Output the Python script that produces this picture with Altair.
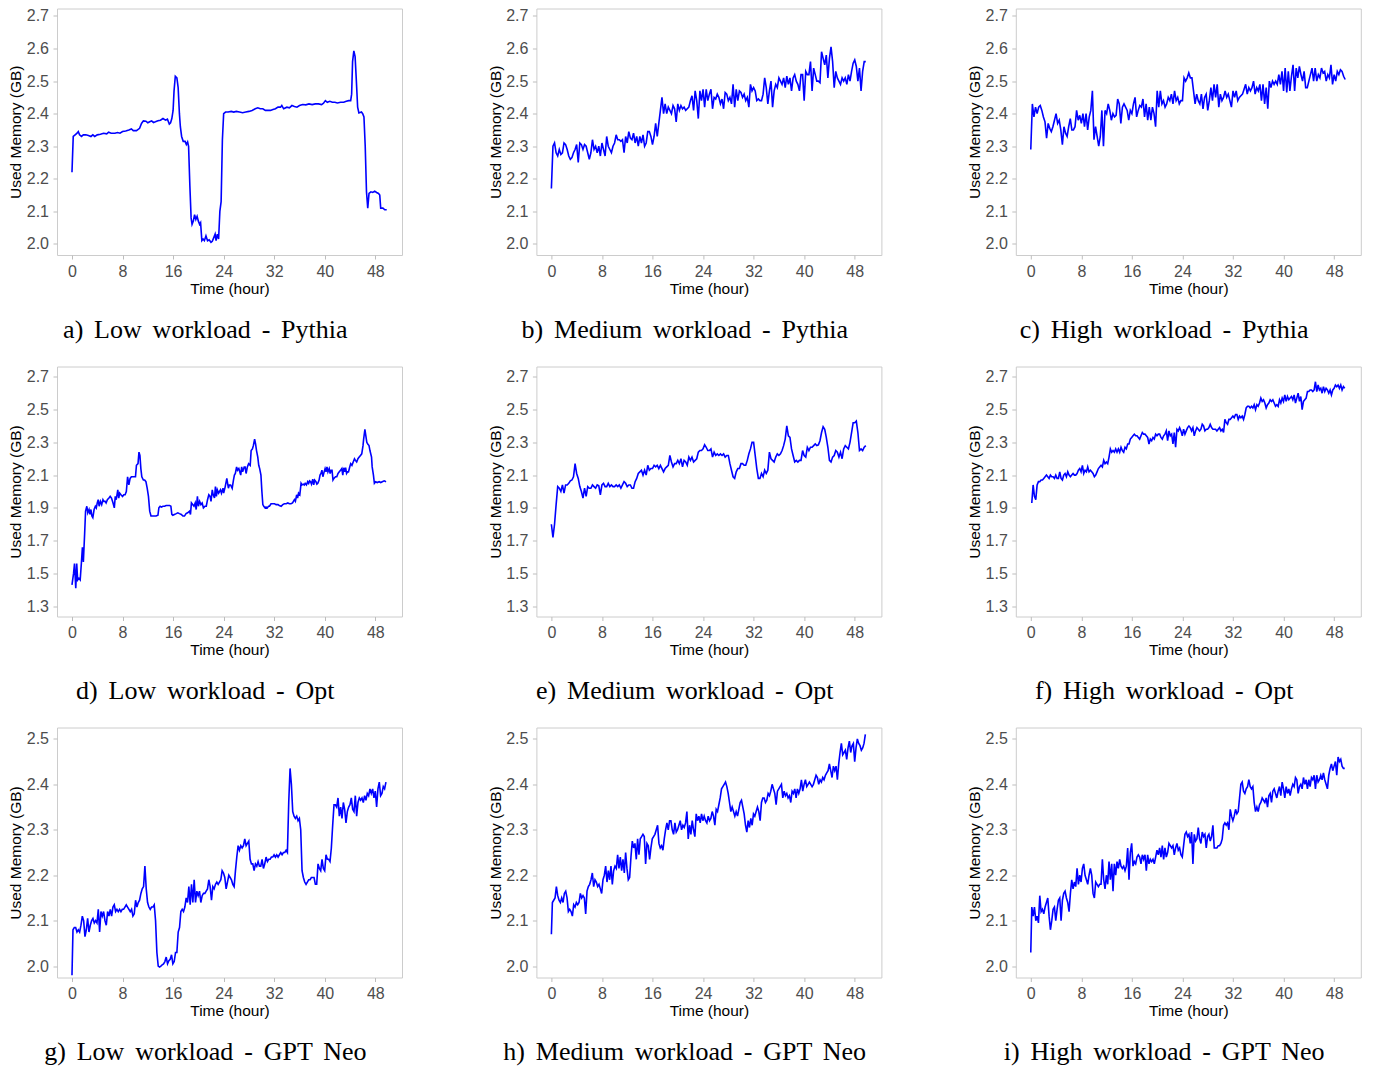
import altair as alt
import pandas as pd

# ---------------- data (hours, used memory GB) ----------------
a_hours = [0, 0.2, 0.5, 0.8, 1.0, 1.2, 1.5, 1.8, 2.2, 2.6, 3.0, 3.3, 3.6, 4.0, 4.5, 5.0, 5.5, 5.8, 6.2, 6.8,
           7.2, 7.6, 8.0, 8.5, 9.0, 9.4, 9.7, 10.2, 10.7, 11.0, 11.3, 11.7, 12.0, 12.3, 12.6, 12.9, 13.2, 13.6,
           14.0, 14.4, 14.8, 15.1, 15.4, 15.6, 15.8, 16.0, 16.15, 16.35, 16.6, 16.8, 17.0, 17.15, 17.35, 17.6,
           17.9, 18.1, 18.3, 18.45, 18.65, 18.85, 19.0, 19.2, 19.4, 19.6, 19.8, 20.0, 20.2, 20.35, 20.55, 20.75,
           20.95, 21.2, 21.45, 21.7, 22.0, 22.2, 22.45, 22.65, 22.8, 23.0, 23.2, 23.4, 23.6, 23.8, 24.0, 24.3,
           24.7, 25.2, 25.6, 26.0, 26.5, 27.0, 27.5, 28.0, 28.5, 29.0, 29.4, 29.8, 30.2, 30.6, 31.0, 31.4, 31.8,
           32.2, 32.6, 33.0, 33.2, 33.5, 34.0, 34.4, 34.8, 35.2, 35.6, 36.0, 36.5, 37.0, 37.5, 38.0, 38.5, 39.0,
           39.5, 39.8, 40.1, 40.4, 40.8, 41.2, 41.6, 42.0, 42.5, 43.0, 43.4, 43.8, 44.1, 44.25, 44.4, 44.6, 44.8,
           45.0, 45.2, 45.4, 45.8, 46.0, 46.2, 46.4, 46.6, 46.8, 47.0, 47.3, 47.6, 47.9, 48.2, 48.5, 48.7, 48.85,
           49.2, 49.5, 49.8]
a_mem = [2.22, 2.33, 2.335, 2.34, 2.345, 2.335, 2.33, 2.335, 2.335, 2.333, 2.33, 2.335, 2.33, 2.335, 2.337,
         2.34, 2.338, 2.343, 2.34, 2.34, 2.342, 2.34, 2.345, 2.347, 2.35, 2.353, 2.348, 2.348, 2.355, 2.37,
         2.378, 2.377, 2.372, 2.375, 2.378, 2.373, 2.375, 2.378, 2.38, 2.385, 2.38, 2.383, 2.368, 2.372, 2.385,
         2.41, 2.47, 2.515, 2.51, 2.48, 2.40, 2.36, 2.33, 2.315, 2.315, 2.305, 2.313, 2.30, 2.18, 2.08, 2.06,
         2.07, 2.09, 2.075, 2.085, 2.07, 2.06, 2.065, 2.01, 2.015, 2.01, 2.025, 2.01, 2.013, 2.005, 2.008, 2.02,
         2.03, 2.01, 2.03, 2.015, 2.10, 2.13, 2.32, 2.40, 2.405, 2.405, 2.407, 2.405, 2.407, 2.405, 2.403,
         2.405, 2.407, 2.41, 2.415, 2.418, 2.415, 2.415, 2.41, 2.41, 2.41, 2.413, 2.415, 2.42, 2.42, 2.425,
         2.415, 2.42, 2.418, 2.425, 2.422, 2.42, 2.425, 2.428, 2.427, 2.43, 2.428, 2.43, 2.43, 2.428, 2.432,
         2.44, 2.435, 2.438, 2.435, 2.435, 2.433, 2.435, 2.435, 2.438, 2.44, 2.44, 2.46, 2.56, 2.593, 2.575,
         2.50, 2.42, 2.402, 2.405, 2.40, 2.39, 2.30, 2.16, 2.11, 2.155, 2.16, 2.158, 2.162, 2.158, 2.155, 2.15,
         2.11, 2.11, 2.105, 2.105]

# quarter-hour samples
b_mem = [2.17, 2.30, 2.31, 2.28, 2.27, 2.29, 2.275, 2.28, 2.31, 2.305, 2.29, 2.27, 2.26, 2.265, 2.28, 2.29,
         2.305, 2.25, 2.31, 2.305, 2.29, 2.305, 2.30, 2.28, 2.26, 2.28, 2.32, 2.29, 2.30, 2.28, 2.30, 2.27,
         2.31, 2.29, 2.27, 2.33, 2.30, 2.29, 2.28, 2.30, 2.31, 2.335, 2.32, 2.32, 2.315, 2.32, 2.28, 2.33,
         2.31, 2.345, 2.325, 2.32, 2.34, 2.31, 2.33, 2.30, 2.33, 2.31, 2.335, 2.30, 2.31, 2.345, 2.345, 2.33,
         2.305, 2.33, 2.37, 2.33, 2.37, 2.41, 2.45, 2.40, 2.43, 2.40, 2.42, 2.41, 2.40, 2.425, 2.415, 2.375,
         2.43, 2.41, 2.425, 2.415, 2.42, 2.41, 2.415, 2.42, 2.44, 2.455, 2.41, 2.47, 2.44, 2.385, 2.47, 2.44,
         2.475, 2.42, 2.475, 2.44, 2.46, 2.475, 2.415, 2.45, 2.445, 2.46, 2.45, 2.43, 2.445, 2.415, 2.465, 2.46,
         2.44, 2.45, 2.43, 2.49, 2.42, 2.475, 2.44, 2.47, 2.465, 2.45, 2.46, 2.44, 2.45, 2.42, 2.49, 2.47,
         2.48, 2.47, 2.44, 2.445, 2.44, 2.44, 2.46, 2.51, 2.48, 2.43, 2.47, 2.50, 2.42, 2.47, 2.49, 2.48,
         2.51, 2.50, 2.49, 2.51, 2.48, 2.515, 2.49, 2.51, 2.47, 2.51, 2.52, 2.50, 2.49, 2.47, 2.52, 2.52,
         2.44, 2.53, 2.52, 2.52, 2.56, 2.47, 2.54, 2.52, 2.50, 2.50, 2.495, 2.59, 2.57, 2.55, 2.58, 2.51,
         2.57, 2.605, 2.56, 2.48, 2.53, 2.51, 2.50, 2.49, 2.51, 2.50, 2.51, 2.49, 2.52, 2.50, 2.53, 2.555,
         2.565, 2.545, 2.50, 2.54, 2.47, 2.53, 2.56, 2.56]
b_hours = [i * 0.25 for i in range(len(b_mem))]

c_mem = [2.29, 2.43, 2.39, 2.42, 2.40, 2.42, 2.425, 2.41, 2.39, 2.375, 2.325, 2.37, 2.355, 2.345, 2.36, 2.38,
         2.40, 2.37, 2.38, 2.35, 2.305, 2.36, 2.34, 2.33, 2.36, 2.385, 2.35, 2.35, 2.36, 2.41, 2.38, 2.395,
         2.37, 2.40, 2.36, 2.40, 2.35, 2.39, 2.41, 2.47, 2.32, 2.36, 2.33, 2.30, 2.33, 2.41, 2.30, 2.41,
         2.40, 2.43, 2.41, 2.38, 2.40, 2.39, 2.395, 2.445, 2.43, 2.37, 2.42, 2.43, 2.42, 2.41, 2.38, 2.41,
         2.40, 2.43, 2.45, 2.39, 2.41, 2.425, 2.42, 2.445, 2.39, 2.43, 2.38, 2.42, 2.38, 2.42, 2.40, 2.36,
         2.47, 2.42, 2.47, 2.43, 2.44, 2.42, 2.43, 2.45, 2.44, 2.46, 2.43, 2.47, 2.44, 2.45, 2.43, 2.44,
         2.44, 2.51, 2.50, 2.51, 2.525, 2.51, 2.51, 2.47, 2.43, 2.46, 2.44, 2.43, 2.46, 2.415, 2.45, 2.46,
         2.41, 2.44, 2.48, 2.44, 2.49, 2.45, 2.49, 2.42, 2.46, 2.44, 2.45, 2.47, 2.45, 2.46, 2.44, 2.42,
         2.47, 2.45, 2.47, 2.44, 2.45, 2.455, 2.46, 2.475, 2.49, 2.46, 2.48, 2.47, 2.48, 2.50, 2.46, 2.48,
         2.47, 2.49, 2.44, 2.49, 2.43, 2.48, 2.415, 2.50, 2.48, 2.50, 2.49, 2.50, 2.49, 2.52, 2.49, 2.53,
         2.47, 2.54, 2.465, 2.53, 2.47, 2.515, 2.55, 2.47, 2.54, 2.51, 2.545, 2.52, 2.50, 2.53, 2.48, 2.48,
         2.50, 2.52, 2.54, 2.50, 2.54, 2.50, 2.52, 2.51, 2.54, 2.525, 2.53, 2.50, 2.52, 2.51, 2.55, 2.49,
         2.52, 2.50, 2.53, 2.52, 2.535, 2.53, 2.515, 2.505]
c_hours = [i * 0.25 for i in range(len(c_mem))]

d_hours = [0, 0.25, 0.4, 0.6, 0.75, 0.9, 1.1, 1.3, 1.5, 1.65, 1.8, 2.0, 2.15, 2.35, 2.5, 2.7, 2.85, 3.0, 3.15,
           3.3, 3.5, 3.7, 3.85, 4.0, 4.15, 4.3, 4.5, 4.7, 4.9, 5.05, 5.25, 5.4, 5.6, 5.85, 6.05, 6.25, 6.5, 6.7,
           6.85, 7.0, 7.25, 7.4, 7.55, 7.75, 8.0, 8.2, 8.4, 8.6, 8.8, 9.0, 9.2, 9.4, 9.65, 9.85, 10.05, 10.2,
           10.45, 10.6, 10.75, 10.9, 11.05, 11.3, 11.5, 11.7, 11.9, 12.1, 12.3, 12.5, 12.8, 13.05, 13.3, 13.6,
           13.75, 13.95, 14.15, 14.4, 14.65, 14.9, 15.2, 15.45, 15.65, 15.8, 15.95, 16.2, 16.5, 16.75, 17.0,
           17.3, 17.55, 17.8, 18.05, 18.3, 18.6, 18.75, 18.9, 19.1, 19.3, 19.5, 19.65, 19.85, 20.0, 20.2, 20.4,
           20.6, 20.8, 21.05, 21.25, 21.45, 21.65, 21.85, 22.0, 22.2, 22.35, 22.55, 22.7, 22.85, 23.0, 23.2,
           23.35, 23.5, 23.65, 23.9, 24.0, 24.25, 24.5, 24.75, 24.9, 25.1, 25.35, 25.55, 25.7, 25.85, 26.05,
           26.2, 26.4, 26.55, 26.7, 26.85, 27.0, 27.25, 27.4, 27.55, 27.75, 27.95, 28.2, 28.35, 28.55, 28.7,
           28.9, 29.05, 29.2, 29.4, 29.55, 29.7, 29.9, 30.05, 30.2, 30.35, 30.55, 30.7, 30.9, 31.1, 31.25, 31.5,
           31.8, 32.05, 32.3, 32.6, 32.8, 33.1, 33.35, 33.6, 33.9, 34.15, 34.4, 34.65, 34.9, 35.2, 35.35, 35.55,
           35.7, 35.85, 36.05, 36.25, 36.4, 36.6, 36.75, 36.9, 37.1, 37.3, 37.45, 37.6, 37.75, 37.9, 38.1,
           38.25, 38.4, 38.6, 38.75, 38.9, 39.1, 39.25, 39.4, 39.55, 39.7, 39.9, 40.05, 40.2, 40.35, 40.5, 40.7,
           40.85, 41.0, 41.15, 41.3, 41.45, 41.7, 41.9, 42.1, 42.3, 42.5, 42.7, 42.85, 43.0, 43.15, 43.3, 43.45,
           43.6, 43.75, 43.95, 44.1, 44.3, 44.5, 44.7, 44.85, 45.05, 45.25, 45.45, 45.65, 45.85, 46.05, 46.15,
           46.35, 46.5, 46.65, 46.8, 47.0, 47.15, 47.4, 47.5, 47.7, 47.85, 48.05, 48.3, 48.6, 48.85, 49.1,
           49.4, 49.7]
d_mem = [1.43, 1.50, 1.56, 1.41, 1.56, 1.46, 1.47, 1.46, 1.57, 1.66, 1.57, 1.74, 1.88, 1.91, 1.87, 1.89, 1.86,
         1.89, 1.85, 1.84, 1.89, 1.91, 1.90, 1.93, 1.95, 1.91, 1.94, 1.92, 1.95, 1.94, 1.94, 1.93, 1.95, 1.96,
         1.97, 1.96, 1.93, 1.90, 1.97, 1.95, 2.01, 1.96, 1.99, 1.98, 1.97, 1.98, 1.98, 2.00, 2.09, 2.04, 2.08,
         2.09, 2.09, 2.09, 2.09, 2.16, 2.17, 2.24, 2.22, 2.14, 2.09, 2.07, 2.07, 2.06, 2.02, 1.97, 1.88, 1.85,
         1.85, 1.85, 1.85, 1.855, 1.90, 1.91, 1.905, 1.91, 1.91, 1.915, 1.915, 1.915, 1.91, 1.86, 1.855, 1.86,
         1.865, 1.87, 1.865, 1.86, 1.85, 1.85, 1.865, 1.87, 1.88, 1.86, 1.93, 1.92, 1.91, 1.93, 1.89, 1.97,
         1.91, 1.94, 1.92, 1.93, 1.90, 1.91, 1.91, 1.95, 1.98, 1.97, 1.94, 2.01, 1.98, 1.96, 2.03, 1.97, 2.01,
         1.99, 2.00, 2.01, 1.99, 2.02, 1.99, 2.03, 2.08, 2.02, 2.04, 2.04, 2.02, 2.07, 2.10, 2.11, 2.15, 2.13,
         2.14, 2.12, 2.10, 2.15, 2.12, 2.15, 2.15, 2.11, 2.15, 2.17, 2.16, 2.25, 2.26, 2.28, 2.32, 2.29, 2.25,
         2.21, 2.16, 2.14, 2.10, 2.00, 1.92, 1.91, 1.90, 1.905, 1.90, 1.91, 1.91, 1.925, 1.925, 1.925, 1.92,
         1.92, 1.915, 1.91, 1.92, 1.925, 1.925, 1.93, 1.925, 1.925, 1.93, 1.95, 1.94, 1.98, 1.96, 1.99, 1.98,
         2.05, 2.04, 2.045, 2.04, 2.05, 2.04, 2.06, 2.05, 2.065, 2.06, 2.045, 2.075, 2.04, 2.07, 2.06, 2.045,
         2.05, 2.07, 2.10, 2.11, 2.13, 2.09, 2.12, 2.14, 2.12, 2.15, 2.12, 2.14, 2.11, 2.13, 2.13, 2.07, 2.08,
         2.09, 2.09, 2.11, 2.12, 2.13, 2.14, 2.10, 2.145, 2.12, 2.145, 2.11, 2.12, 2.12, 2.15, 2.17, 2.16,
         2.18, 2.20, 2.19, 2.18, 2.20, 2.21, 2.22, 2.23, 2.28, 2.32, 2.38, 2.34, 2.30, 2.29, 2.28, 2.25, 2.21,
         2.15, 2.10, 2.05, 2.06, 2.055, 2.06, 2.055, 2.06, 2.065, 2.06]

e_mem = [1.80, 1.72, 1.80, 1.92, 2.03, 2.02, 2.00, 2.04, 1.99, 2.04, 2.04, 2.05, 2.065, 2.07, 2.09, 2.17,
         2.11, 2.08, 2.03, 2.00, 1.96, 2.02, 1.97, 2.03, 2.02, 2.02, 2.04, 2.03, 2.02, 2.04, 2.035, 1.98,
         2.04, 2.05, 2.03, 2.03, 2.05, 2.03, 2.04, 2.03, 2.03, 2.04, 2.03, 2.04, 2.02, 2.04, 2.06, 2.05,
         2.03, 2.04, 2.04, 2.02, 2.02, 2.06, 2.08, 2.11, 2.12, 2.13, 2.10, 2.13, 2.10, 2.16, 2.13, 2.14,
         2.14, 2.16, 2.15, 2.16, 2.14, 2.16, 2.14, 2.12, 2.14, 2.15, 2.16, 2.22, 2.18, 2.15, 2.17, 2.17,
         2.19, 2.17, 2.20, 2.15, 2.19, 2.18, 2.16, 2.21, 2.19, 2.21, 2.18, 2.19, 2.20, 2.24, 2.25, 2.25,
         2.26, 2.285, 2.27, 2.25, 2.25, 2.26, 2.21, 2.24, 2.22, 2.23, 2.22, 2.23, 2.22, 2.23, 2.21, 2.22,
         2.22, 2.17, 2.13, 2.09, 2.08, 2.12, 2.14, 2.14, 2.17, 2.17, 2.16, 2.16, 2.19, 2.23, 2.26, 2.30,
         2.30, 2.22, 2.14, 2.08, 2.08, 2.11, 2.09, 2.13, 2.11, 2.13, 2.24, 2.20, 2.19, 2.18, 2.21, 2.23,
         2.22, 2.23, 2.25, 2.28, 2.32, 2.40, 2.34, 2.33, 2.26, 2.22, 2.18, 2.19, 2.18, 2.19, 2.19, 2.25,
         2.22, 2.21, 2.27, 2.25, 2.27, 2.27, 2.28, 2.29, 2.28, 2.285, 2.31, 2.36, 2.395, 2.38, 2.33, 2.27,
         2.19, 2.18, 2.21, 2.22, 2.25, 2.24, 2.21, 2.24, 2.20, 2.26, 2.28, 2.27, 2.26, 2.30, 2.36, 2.42,
         2.42, 2.43, 2.36, 2.25, 2.26, 2.25, 2.27, 2.28]
e_hours = [i * 0.25 for i in range(len(e_mem))]

f_mem = [1.93, 2.04, 1.97, 1.95, 2.04, 2.06, 2.06, 2.07, 2.07, 2.08, 2.09, 2.10, 2.09, 2.08, 2.10, 2.09,
         2.09, 2.08, 2.10, 2.08, 2.08, 2.12, 2.08, 2.07, 2.10, 2.11, 2.09, 2.12, 2.10, 2.09, 2.10, 2.11,
         2.10, 2.10, 2.11, 2.13, 2.14, 2.12, 2.16, 2.11, 2.13, 2.12, 2.15, 2.12, 2.13, 2.12, 2.11, 2.09,
         2.10, 2.12, 2.14, 2.15, 2.16, 2.15, 2.19, 2.17, 2.18, 2.17, 2.21, 2.26, 2.24, 2.25, 2.24, 2.26,
         2.24, 2.26, 2.24, 2.27, 2.25, 2.24, 2.27, 2.26, 2.29, 2.29, 2.32, 2.33, 2.34, 2.35, 2.34, 2.34,
         2.33, 2.32, 2.34, 2.36, 2.35, 2.35, 2.34, 2.33, 2.29, 2.32, 2.31, 2.33, 2.32, 2.35, 2.34, 2.35,
         2.35, 2.33, 2.32, 2.34, 2.35, 2.37, 2.31, 2.37, 2.34, 2.35, 2.29, 2.36, 2.27, 2.38, 2.37, 2.39,
         2.37, 2.34, 2.38, 2.35, 2.37, 2.39, 2.40, 2.39, 2.37, 2.39, 2.34, 2.37, 2.39, 2.38, 2.37, 2.38,
         2.41, 2.40, 2.37, 2.38, 2.38, 2.39, 2.41, 2.39, 2.38, 2.38, 2.38, 2.37, 2.38, 2.39, 2.37, 2.38,
         2.36, 2.44, 2.42, 2.41, 2.44, 2.44, 2.45, 2.46, 2.45, 2.47, 2.47, 2.44, 2.46, 2.45, 2.46, 2.44,
         2.47, 2.51, 2.52, 2.52, 2.51, 2.52, 2.51, 2.53, 2.50, 2.53, 2.52, 2.54, 2.57, 2.55, 2.56, 2.54,
         2.51, 2.53, 2.54, 2.56, 2.55, 2.56, 2.54, 2.52, 2.53, 2.52, 2.56, 2.54, 2.57, 2.55, 2.59, 2.55,
         2.58, 2.56, 2.57, 2.58, 2.56, 2.59, 2.54, 2.57, 2.60, 2.55, 2.58, 2.50, 2.55, 2.56, 2.57, 2.61,
         2.61, 2.62, 2.62, 2.61, 2.62, 2.67, 2.61, 2.65, 2.62, 2.63, 2.60, 2.64, 2.61, 2.63, 2.62, 2.60,
         2.62, 2.59, 2.62, 2.63, 2.65, 2.64, 2.65, 2.63, 2.65, 2.62, 2.64, 2.63]

g_mem = [1.98, 2.08, 2.085, 2.085, 2.075, 2.08, 2.075, 2.09, 2.11, 2.10, 2.065, 2.08, 2.105, 2.075, 2.09, 2.10,
         2.105, 2.095, 2.10, 2.095, 2.125, 2.075, 2.12, 2.11, 2.12, 2.10, 2.09, 2.12, 2.11, 2.125, 2.11,
         2.13, 2.135, 2.12, 2.125, 2.12, 2.125, 2.12, 2.125, 2.125, 2.13, 2.135, 2.13, 2.125, 2.12, 2.125,
         2.11, 2.115, 2.145, 2.13, 2.14, 2.145, 2.16, 2.17, 2.175, 2.22, 2.17, 2.14, 2.13, 2.125, 2.13, 2.13,
         2.135, 2.10, 2.03, 2.00, 1.998, 2.0, 2.003, 2.005, 2.01, 2.02, 2.005, 2.012, 2.015, 2.025, 2.005,
         2.01, 2.03, 2.03, 2.075, 2.085, 2.12, 2.125, 2.12, 2.13, 2.15, 2.14, 2.175, 2.135, 2.18, 2.14, 2.19,
         2.14, 2.165, 2.155, 2.165, 2.14, 2.155, 2.16, 2.16, 2.165, 2.17, 2.19, 2.175, 2.145, 2.175, 2.17,
         2.18, 2.185, 2.18, 2.185, 2.19, 2.21, 2.205, 2.195, 2.17, 2.185, 2.20, 2.195, 2.19, 2.18, 2.175,
         2.21, 2.24, 2.265, 2.255, 2.265, 2.26, 2.265, 2.28, 2.265, 2.27, 2.275, 2.235, 2.225, 2.225, 2.21,
         2.225, 2.22, 2.23, 2.22, 2.22, 2.235, 2.215, 2.225, 2.24, 2.23, 2.235, 2.235, 2.24, 2.24, 2.245,
         2.24, 2.245, 2.24, 2.245, 2.25, 2.245, 2.25, 2.25, 2.255, 2.25, 2.36, 2.435, 2.40, 2.34, 2.33, 2.325,
         2.33, 2.32, 2.325, 2.30, 2.21, 2.195, 2.185, 2.18, 2.185, 2.19, 2.19, 2.195, 2.195, 2.195, 2.18,
         2.18, 2.225, 2.215, 2.21, 2.235, 2.215, 2.21, 2.245, 2.235, 2.235, 2.23, 2.26, 2.31, 2.355, 2.355,
         2.35, 2.37, 2.33, 2.35, 2.325, 2.36, 2.345, 2.315, 2.34, 2.35, 2.355, 2.37, 2.345, 2.34, 2.375, 2.33,
         2.36, 2.37, 2.365, 2.37, 2.36, 2.375, 2.365, 2.38, 2.375, 2.39, 2.38, 2.39, 2.37, 2.385, 2.35, 2.39,
         2.405, 2.375, 2.38, 2.395, 2.39, 2.405]

h_mem = [2.07, 2.14, 2.145, 2.15, 2.175, 2.155, 2.145, 2.14, 2.15, 2.14, 2.16, 2.165, 2.15, 2.12, 2.125, 2.12,
         2.11, 2.135, 2.13, 2.14, 2.135, 2.14, 2.16, 2.15, 2.155, 2.15, 2.115, 2.165, 2.175, 2.18, 2.19,
         2.205, 2.175, 2.19, 2.185, 2.175, 2.18, 2.17, 2.16, 2.19, 2.20, 2.22, 2.185, 2.21, 2.19, 2.22, 2.18,
         2.21, 2.22, 2.215, 2.245, 2.215, 2.24, 2.21, 2.235, 2.205, 2.25, 2.215, 2.19, 2.195, 2.24, 2.275,
         2.26, 2.27, 2.235, 2.28, 2.245, 2.28, 2.285, 2.29, 2.285, 2.225, 2.27, 2.265, 2.235, 2.26, 2.28,
         2.285, 2.29, 2.30, 2.31, 2.27, 2.26, 2.265, 2.255, 2.28, 2.30, 2.315, 2.30, 2.32, 2.32, 2.30, 2.29,
         2.315, 2.295, 2.30, 2.31, 2.32, 2.30, 2.31, 2.305, 2.315, 2.34, 2.28, 2.31, 2.29, 2.32, 2.30, 2.285,
         2.335, 2.32, 2.33, 2.315, 2.335, 2.32, 2.33, 2.32, 2.315, 2.33, 2.32, 2.325, 2.34, 2.33, 2.31, 2.345,
         2.34, 2.355, 2.37, 2.39, 2.395, 2.40, 2.405, 2.395, 2.38, 2.36, 2.34, 2.35, 2.34, 2.33, 2.34, 2.33,
         2.345, 2.36, 2.365, 2.35, 2.335, 2.31, 2.295, 2.32, 2.305, 2.325, 2.31, 2.335, 2.33, 2.34, 2.35,
         2.34, 2.32, 2.36, 2.37, 2.37, 2.36, 2.365, 2.38, 2.375, 2.385, 2.40, 2.39, 2.38, 2.355, 2.385, 2.39,
         2.395, 2.40, 2.37, 2.385, 2.375, 2.38, 2.37, 2.375, 2.36, 2.385, 2.38, 2.39, 2.37, 2.39, 2.38, 2.39,
         2.41, 2.385, 2.40, 2.41, 2.395, 2.40, 2.405, 2.40, 2.395, 2.40, 2.41, 2.42, 2.415, 2.40, 2.41, 2.405,
         2.415, 2.41, 2.42, 2.425, 2.43, 2.445, 2.43, 2.415, 2.44, 2.43, 2.44, 2.41, 2.445, 2.47, 2.49, 2.465,
         2.47, 2.475, 2.455, 2.48, 2.495, 2.47, 2.485, 2.49, 2.45, 2.48, 2.50, 2.49, 2.485, 2.475, 2.48, 2.49,
         2.51]

i_mem = [2.03, 2.13, 2.11, 2.13, 2.10, 2.11, 2.095, 2.155, 2.12, 2.125, 2.115, 2.13, 2.14, 2.15, 2.11, 2.08,
         2.10, 2.125, 2.13, 2.10, 2.125, 2.145, 2.15, 2.10, 2.145, 2.16, 2.165, 2.15, 2.14, 2.12, 2.16, 2.19,
         2.17, 2.185, 2.175, 2.215, 2.18, 2.20, 2.185, 2.215, 2.225, 2.20, 2.19, 2.18, 2.20, 2.215, 2.20,
         2.16, 2.15, 2.185, 2.18, 2.175, 2.18, 2.18, 2.235, 2.19, 2.17, 2.20, 2.18, 2.23, 2.19, 2.225, 2.165,
         2.225, 2.20, 2.23, 2.215, 2.235, 2.22, 2.215, 2.22, 2.21, 2.22, 2.26, 2.19, 2.25, 2.27, 2.22, 2.23,
         2.225, 2.24, 2.245, 2.24, 2.225, 2.245, 2.235, 2.245, 2.21, 2.245, 2.225, 2.235, 2.23, 2.235, 2.225,
         2.24, 2.255, 2.245, 2.26, 2.24, 2.265, 2.235, 2.26, 2.24, 2.25, 2.27, 2.265, 2.26, 2.265, 2.245,
         2.26, 2.27, 2.255, 2.26, 2.245, 2.24, 2.265, 2.29, 2.295, 2.285, 2.29, 2.27, 2.295, 2.225, 2.29,
         2.275, 2.28, 2.305, 2.28, 2.27, 2.295, 2.285, 2.29, 2.26, 2.285, 2.29, 2.275, 2.285, 2.31, 2.26,
         2.26, 2.26, 2.265, 2.265, 2.27, 2.28, 2.31, 2.315, 2.31, 2.315, 2.30, 2.345, 2.33, 2.32, 2.33, 2.345,
         2.335, 2.34, 2.37, 2.40, 2.405, 2.385, 2.38, 2.39, 2.395, 2.41, 2.395, 2.39, 2.395, 2.36, 2.34, 2.35,
         2.34, 2.355, 2.36, 2.37, 2.365, 2.36, 2.37, 2.35, 2.375, 2.38, 2.36, 2.385, 2.39, 2.38, 2.37, 2.385,
         2.395, 2.375, 2.405, 2.39, 2.37, 2.395, 2.38, 2.39, 2.375, 2.39, 2.40, 2.395, 2.415, 2.41, 2.38,
         2.395, 2.40, 2.39, 2.415, 2.40, 2.41, 2.39, 2.41, 2.395, 2.415, 2.41, 2.42, 2.39, 2.42, 2.405, 2.41,
         2.42, 2.41, 2.425, 2.41, 2.40, 2.39, 2.42, 2.435, 2.445, 2.43, 2.44, 2.45, 2.42, 2.46, 2.45, 2.455,
         2.44, 2.435, 2.435]


def sample_grid(first, last, n):
    return [first + (last - first) * k / (n - 1) for k in range(n)]


f_hours = sample_grid(0.16, 49.68, len(f_mem))
g_hours = [0.0] + sample_grid(0.16, 49.68, len(g_mem) - 1)
h_hours = [0.0] + sample_grid(0.16, 49.68, len(h_mem) - 1)
i_hours = [0.0] + sample_grid(0.16, 49.68, len(i_mem) - 1)

x_ticks = [0, 8, 16, 24, 32, 40, 48]
y_ticks_pythia = [2.0, 2.1, 2.2, 2.3, 2.4, 2.5, 2.6, 2.7]
y_ticks_opt = [1.3, 1.5, 1.7, 1.9, 2.1, 2.3, 2.5, 2.7]
y_ticks_neo = [2.0, 2.1, 2.2, 2.3, 2.4, 2.5]
# top row starts a few pixels lower than the original page edge allows,
# so its plot is slightly shorter and its upper limit is trimmed to match
y_dom_pythia = [1.966, 2.723]
y_dom_opt = [1.237, 2.763]
y_dom_neo = [1.975, 2.525]
x_dom = [-2.37, 52.22]

SP = " \u2006"
captions = [
    SP.join(["a)", "Low", "workload", "-", "Pythia"]),
    SP.join(["b)", "Medium", "workload", "-", "Pythia"]),
    SP.join(["c)", "High", "workload", "-", "Pythia"]),
    SP.join(["d)", "Low", "workload", "-", "Opt"]),
    SP.join(["e)", "Medium", "workload", "-", "Opt"]),
    SP.join(["f)", "High", "workload", "-", "Opt"]),
    SP.join(["g)", "Low", "workload", "-", "GPT", "Neo"]),
    SP.join(["h)", "Medium", "workload", "-", "GPT", "Neo"]),
    SP.join(["i)", "High", "workload", "-", "GPT", "Neo"]),
]


def panel(hours, mem, ydom, yticks, caption, height=250):
    df = pd.DataFrame({"t": hours, "m": mem})
    return alt.Chart(df).mark_line(color="#0000ff", strokeWidth=1.6).encode(
        x=alt.X("t:Q",
                scale=alt.Scale(domain=x_dom, nice=False, zero=False),
                axis=alt.Axis(values=x_ticks, format="d", title="Time (hour)")),
        y=alt.Y("m:Q",
                scale=alt.Scale(domain=ydom, nice=False, zero=False),
                axis=alt.Axis(values=yticks, format=".1f", title="Used Memory (GB)")),
    ).properties(
        width=345, height=height,
        title=alt.TitleParams(caption, orient="bottom", anchor="middle", frame="bounds",
                              offset=20, font="Liberation Serif", fontSize=26,
                              fontWeight="normal", color="black"),
    )


H1 = 246.5
HS = 84.4
row1 = alt.hconcat(
    panel(a_hours, a_mem, y_dom_pythia, y_ticks_pythia, captions[0], H1),
    panel(b_hours, b_mem, y_dom_pythia, y_ticks_pythia, captions[1], H1),
    panel(c_hours, c_mem, y_dom_pythia, y_ticks_pythia, captions[2], H1),
    spacing=HS)
row2 = alt.hconcat(
    panel(d_hours, d_mem, y_dom_opt, y_ticks_opt, captions[3]),
    panel(e_hours, e_mem, y_dom_opt, y_ticks_opt, captions[4]),
    panel(f_hours, f_mem, y_dom_opt, y_ticks_opt, captions[5]),
    spacing=HS)
row3 = alt.hconcat(
    panel(g_hours, g_mem, y_dom_neo, y_ticks_neo, captions[6]),
    panel(h_hours, h_mem, y_dom_neo, y_ticks_neo, captions[7]),
    panel(i_hours, i_mem, y_dom_neo, y_ticks_neo, captions[8]),
    spacing=HS)

chart = alt.vconcat(row1, row2, row3, spacing=22).properties(
    padding={"left": 0, "top": -1.5, "right": 0, "bottom": 0},
    background="white",
).configure_view(
    stroke="#cccccc", strokeWidth=1,
).configure_axis(
    grid=False, domain=False, tickColor="#bdbdbd", tickSize=4, tickWidth=1,
    labelFont="Liberation Sans", labelFontSize=16, labelColor="#4d4d4d",
    labelFlush=False,
    titleFont="Liberation Sans", titleFontSize=15.5, titleFontWeight="normal", titleColor="black",
).configure_axisX(
    labelPadding=4, titlePadding=2,
).configure_axisY(
    labelPadding=4.5, titlePadding=2.6,
)

chart.save("out.html", embed_options={"renderer": "svg", "actions": False})
